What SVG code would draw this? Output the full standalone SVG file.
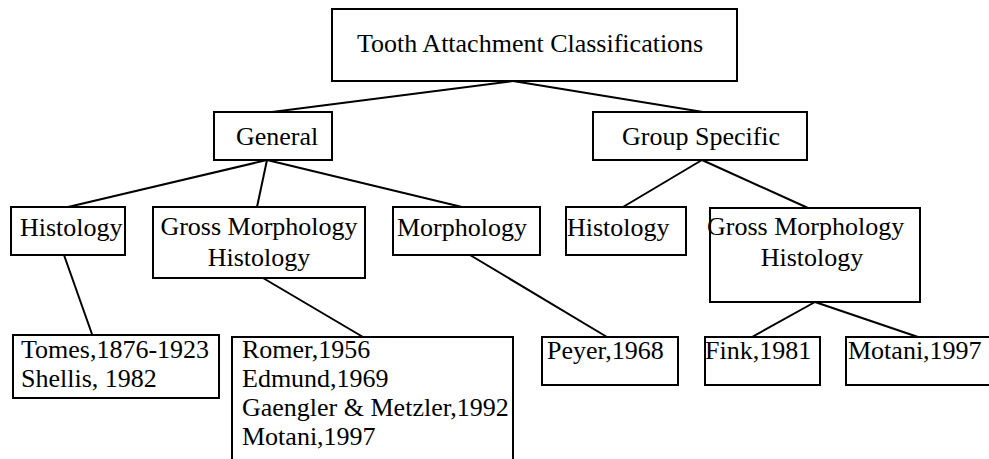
<svg xmlns="http://www.w3.org/2000/svg" width="989" height="459" viewBox="0 0 989 459">
<style>
rect{fill:#fff;stroke:#000;stroke-width:2}
line{stroke:#000;stroke-width:2}
text{font-family:"Liberation Serif","Times New Roman",serif;font-size:26px;fill:#000}
.c{text-anchor:middle}
</style>
<rect x="0" y="0" width="989" height="459" style="stroke:none"/>
<g id="connectors">
<line x1="513" y1="81" x2="272" y2="112"/>
<line x1="513" y1="81" x2="703" y2="112"/>
<line x1="267" y1="160" x2="68" y2="207"/>
<line x1="267" y1="160" x2="257" y2="207"/>
<line x1="267" y1="160" x2="462" y2="207"/>
<line x1="702" y1="160" x2="623" y2="207"/>
<line x1="702" y1="160" x2="808" y2="208"/>
<line x1="64" y1="255" x2="93" y2="337"/>
<line x1="263" y1="278" x2="363" y2="337"/>
<line x1="470" y1="255" x2="607" y2="337"/>
<line x1="815" y1="302" x2="752" y2="337"/>
<line x1="815" y1="302" x2="918" y2="337"/>
</g>
<g id="root"><rect x="332" y="9" width="405" height="72"/><text x="357" y="52">Tooth Attachment Classifications</text></g>
<g id="general"><rect x="214" y="112" width="118" height="48"/><text x="236" y="145">General</text></g>
<g id="group-specific"><rect x="593" y="112" width="214" height="48"/><text x="622" y="145">Group Specific</text></g>
<g id="histology1"><rect x="11" y="207" width="114" height="48"/><text x="20" y="236">Histology</text></g>
<g id="gross1"><rect x="153" y="207" width="212" height="71"/><text x="259" y="235" class="c">Gross Morphology</text><text x="259" y="266" class="c">Histology</text></g>
<g id="morphology"><rect x="393" y="207" width="147" height="48"/><text x="397" y="236">Morphology</text></g>
<g id="histology2"><rect x="566" y="207" width="120" height="48"/><text x="567" y="236">Histology</text></g>
<g id="gross2"><rect x="710" y="208" width="210" height="94"/><text x="707" y="235">Gross Morphology</text><text x="812" y="266" class="c">Histology</text></g>
<g id="tomes"><rect x="13" y="335" width="206" height="63"/><text x="21" y="358">Tomes,1876-1923</text><text x="21" y="387">Shellis, 1982</text></g>
<g id="romer"><rect x="232" y="337" width="281" height="140"/><text x="242" y="358">Romer,1956</text><text x="242" y="387">Edmund,1969</text><text x="242" y="416">Gaengler &amp; Metzler,1992</text><text x="242" y="445">Motani,1997</text></g>
<g id="peyer"><rect x="542" y="337" width="136" height="48"/><text x="547" y="359">Peyer,1968</text></g>
<g id="fink"><rect x="705" y="337" width="115" height="48"/><text x="705" y="359">Fink,1981</text></g>
<g id="motani"><rect x="846" y="337" width="150" height="48"/><text x="848" y="359">Motani,1997</text></g>
</svg>
